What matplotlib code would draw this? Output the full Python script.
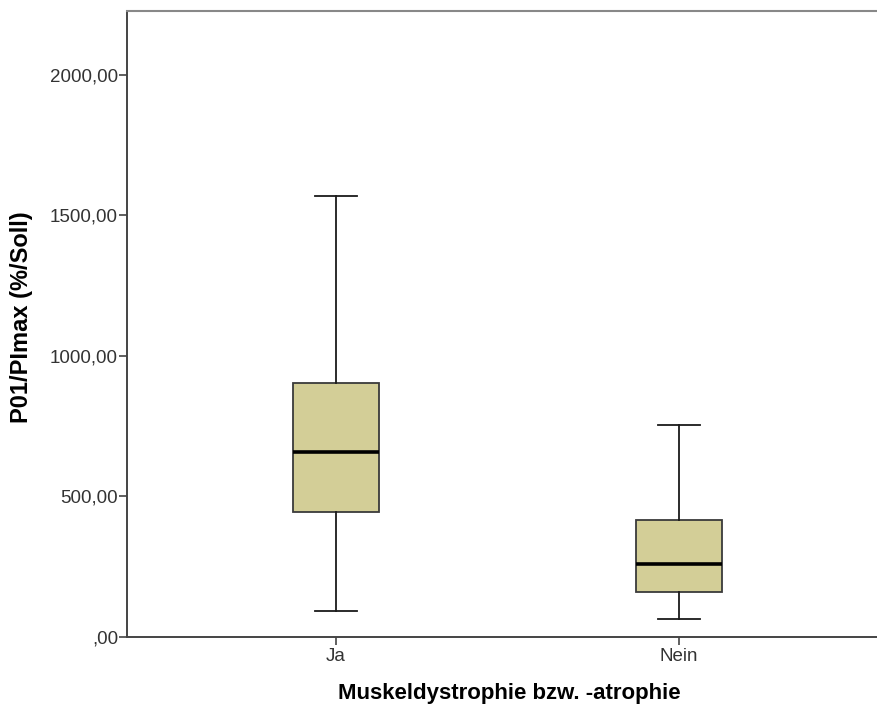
import matplotlib
matplotlib.use("Agg")
import matplotlib.pyplot as plt

# data
groups = ["Ja", "Nein"]
whisker_low = [91, 62]
q1 = [443, 158]
median = [657, 258]
q3 = [902, 415]
whisker_high = [1568, 753]

yticks = [0, 500, 1000, 1500, 2000]
ytick_labels = [",00", "500,00", "1000,00", "1500,00", "2000,00"]

plt.rcParams['font.family'] = ['Liberation Sans', 'DejaVu Sans']

fig = plt.figure(figsize=(8.78, 7.11), dpi=100)
ax = fig.add_axes([127 / 878, 1 - 636.5 / 711, (878 - 127) / 878, (636.5 - 11) / 711])

stats = []
for i, g in enumerate(groups):
    stats.append({"label": g, "whislo": whisker_low[i], "q1": q1[i], "med": median[i],
                  "q3": q3[i], "whishi": whisker_high[i], "fliers": []})

ax.bxp(stats, positions=[1, 2], widths=0.25, patch_artist=True, showfliers=False,
       boxprops=dict(facecolor="#D3CE97", edgecolor="#3a3a3a", linewidth=1.3),
       medianprops=dict(color="black", linewidth=2.6),
       whiskerprops=dict(color="#1a1a1a", linewidth=1.3),
       capprops=dict(color="#1a1a1a", linewidth=1.3),
       capwidths=0.125)

# category spacing ~343 px, "Ja" sits ~209 px right of the y axis
ax.set_xlim(1 - 209 / 343, 1 + (878 - 336) / 343)
ax.set_ylim(0, 2226)
ax.set_yticks(yticks)
ax.set_yticklabels(ytick_labels)

ax.spines["right"].set_visible(False)
ax.spines["top"].set_color("#888888")
ax.spines["top"].set_linewidth(1.5)
for side in ["left", "bottom"]:
    ax.spines[side].set_color("#444444")
    ax.spines[side].set_linewidth(1.4)

ax.tick_params(axis="both", direction="out", length=6, width=1.2, color="#444444",
               labelsize=13.5, labelcolor="#333333", pad=0.5)
ax.tick_params(axis="x", pad=2)

fig.text(509 / 878, 1 - 693 / 711, "Muskeldystrophie bzw. -atrophie", ha="center", va="center",
         fontsize=16, fontweight="bold")
fig.text(22 / 878, 1 - 317 / 711, "P01/PImax (%/Soll)", ha="center", va="center",
         rotation=90, fontsize=17, fontweight="bold")

fig.savefig("out.png", dpi=100)
